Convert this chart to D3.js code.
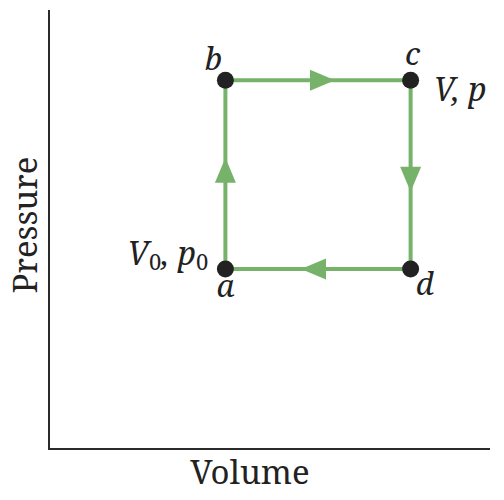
<!DOCTYPE html>
<html><head><meta charset="utf-8">
<script src="https://cdn.jsdelivr.net/npm/d3@7"></script>
<style>html,body{margin:0;padding:0;background:#fff;}</style>
</head><body>
<svg id="chart" width="504" height="500"></svg>
<script>
// Cycle states a -> b -> c -> d -> a
const stateNames = ["a", "b", "c", "d"];
const volumes   = [0.40, 0.40, 0.82, 0.82];
const pressures = [0.41, 0.84, 0.84, 0.41];
const axisTitles = ["Volume", "Pressure"];

const svg = d3.select("#chart");
const x = d3.scaleLinear().domain([0, 1]).range([49, 490]);
const y = d3.scaleLinear().domain([0, 1]).range([449, 10]);
const green = "#77b26a";
const serif = '"Noto Serif", "Liberation Serif", serif';
const ink = "#222";

// axes
svg.append("path")
  .attr("d", `M${x(0)},${y(1)}V${y(0)}H${x(1)}`)
  .attr("fill", "none").attr("stroke", "#2b2b2b").attr("stroke-width", 2);

svg.append("text").attr("x", 250).attr("y", 484)
  .attr("text-anchor", "middle").style("font-family", serif).attr("font-size", 33)
  .attr("fill", ink).text(axisTitles[0]);
svg.append("text").attr("transform", `translate(37,225) rotate(-90)`)
  .attr("text-anchor", "middle").style("font-family", serif).attr("font-size", 33)
  .attr("fill", ink).text(axisTitles[1]);

const pts = stateNames.map((n, i) => ({name: n, v: volumes[i], p: pressures[i]}));

// cycle lines
const line = d3.line().x(d => x(d.v)).y(d => y(d.p)).curve(d3.curveLinearClosed);
svg.append("path").attr("d", line(pts)).attr("fill", "none")
  .attr("stroke", green).attr("stroke-width", 4);

// arrows at the midpoint of each segment, pointing along the direction of travel
pts.forEach((s, i) => {
  const e = pts[(i + 1) % pts.length];
  const x1 = x(s.v), y1 = y(s.p), x2 = x(e.v), y2 = y(e.p);
  const mx = (x1 + x2) / 2, my = (y1 + y2) / 2;
  const ang = Math.atan2(y2 - y1, x2 - x1) * 180 / Math.PI;
  svg.append("path")
    .attr("d", "M17,0L-8,-10.5L-8,10.5Z")
    .attr("transform", `translate(${mx},${my}) rotate(${ang})`)
    .attr("fill", green);
});

// state points
svg.selectAll("circle.state").data(pts).join("circle")
  .attr("class", "state")
  .attr("cx", d => x(d.v)).attr("cy", d => y(d.p)).attr("r", 8.5)
  .attr("fill", ink);

// state letter labels
const letterOffsets = {a: [0, 28], b: [-12, -10], c: [2, -15], d: [14, 26]};
svg.selectAll("text.state").data(pts).join("text")
  .attr("class", "state")
  .attr("x", d => x(d.v) + letterOffsets[d.name][0])
  .attr("y", d => y(d.p) + letterOffsets[d.name][1])
  .attr("text-anchor", "middle").style("font-family", serif)
  .attr("font-style", "italic").attr("font-size", 31).attr("fill", ink)
  .text(d => d.name);

// state value labels
const c = pts[2], a = pts[0];
svg.append("text").attr("x", x(c.v) + 23).attr("y", y(c.p) + 21)
  .style("font-family", serif).attr("font-style", "italic").attr("font-size", 32).attr("fill", ink)
  .text("V, p");

const ta = svg.append("text").attr("x", x(a.v) - 17).attr("y", y(a.p) - 4)
  .attr("text-anchor", "end")
  .style("font-family", serif).attr("font-style", "italic").attr("font-size", 32).attr("fill", ink);
ta.append("tspan").text("V");
ta.append("tspan").attr("font-style", "normal").attr("font-size", 22).attr("dy", 5).text("0");
ta.append("tspan").attr("dy", -5).text(", p");
ta.append("tspan").attr("font-style", "normal").attr("font-size", 22).attr("dy", 5).text("0");
</script>
</body></html>
